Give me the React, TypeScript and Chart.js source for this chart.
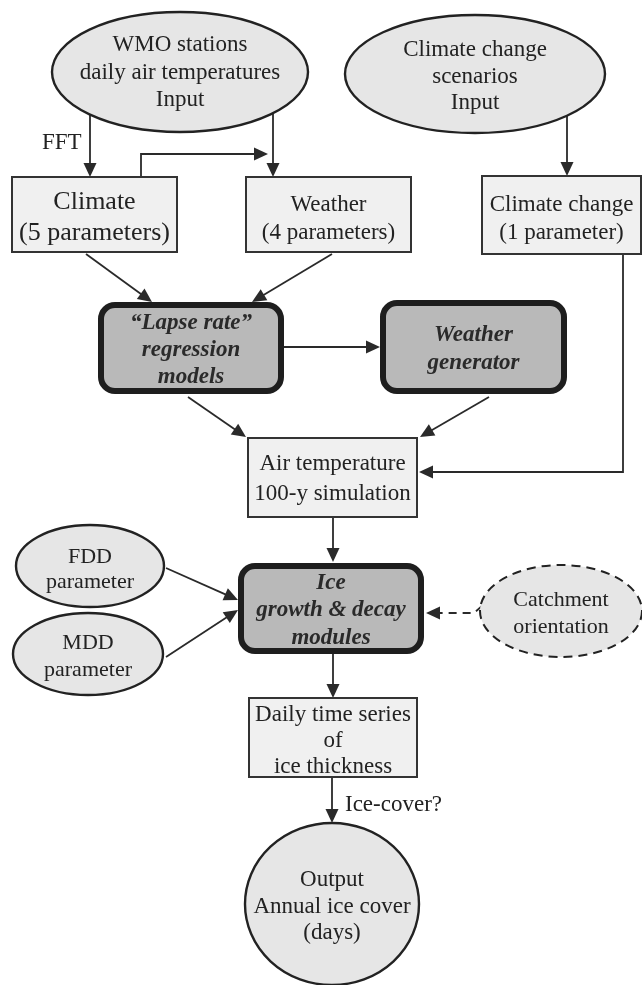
import React, { useEffect, useRef } from "react";
import { Chart, registerables } from "chart.js";

Chart.register(...registerables);

// ---- Data ----
const nodeIds = ["wmo", "ccs", "climate", "weather", "cc", "lapse", "wgen", "air", "fdd", "mdd", "ice", "catch", "daily", "output"];
const nodeLabels: string[][] = [
  ["WMO stations", "daily air temperatures", "Input"],
  ["Climate change", "scenarios", "Input"],
  ["Climate", "(5 parameters)"],
  ["Weather", "(4 parameters)"],
  ["Climate change", "(1 parameter)"],
  ["\u201CLapse rate\u201D", "regression", "models"],
  ["Weather", "generator"],
  ["Air temperature", "100-y simulation"],
  ["FDD", "parameter"],
  ["MDD", "parameter"],
  ["Ice", "growth & decay", "modules"],
  ["Catchment", "orientation"],
  ["Daily time series", "of", "ice thickness"],
  ["Output", "Annual ice cover", "(days)"],
];
const nodeKinds = ["input", "input", "box", "box", "box", "model", "model", "box", "input", "input", "model", "optional", "box", "input"];
const nodeX = [180, 475, 94.5, 328.5, 561.5, 191, 473.5, 332.5, 90, 88, 331, 561, 333, 332];
const nodeY = [72, 74, 214.5, 214.5, 215, 348, 347, 477.5, 566, 654, 608.5, 611, 737.5, 904];

const edgeFrom = ["wmo", "wmo", "climate", "ccs", "climate", "weather", "lapse", "lapse", "wgen", "cc", "air", "fdd", "mdd", "catch", "ice", "daily"];
const edgeTo = ["climate", "weather", "weather", "cc", "lapse", "lapse", "wgen", "air", "air", "air", "ice", "ice", "ice", "ice", "daily", "output"];
const edgeDashed = [false, false, false, false, false, false, false, false, false, false, false, false, false, true, false, false];

const annotations = ["FFT", "Ice-cover?"];

// ---- Layout (geometry, not data) ----
// ellipses: [rx, ry]; boxes: [width, height]
const size: Record<string, [number, number]> = {
  wmo: [128, 60], ccs: [130, 59], climate: [165, 75], weather: [165, 75], cc: [159, 78],
  lapse: [186, 92], wgen: [187, 94], air: [169, 79], fdd: [74, 41], mdd: [75, 41],
  ice: [186, 91], catch: [81, 46], daily: [168, 79], output: [87, 81],
};
// text: [center y, line spacing, font size]
const textLayout: Record<string, [number, number, number]> = {
  wmo: [72.5, 27.5, 23], ccs: [76.5, 26.5, 23], climate: [217.5, 31, 26], weather: [219, 28, 23],
  cc: [219, 28, 23], lapse: [350, 27, 23], wgen: [349, 28, 23], air: [479, 30, 23],
  fdd: [569.5, 25, 22], mdd: [656.5, 27, 22], ice: [610.5, 27.5, 23], catch: [613.5, 27, 22],
  daily: [741, 26, 23], output: [906.5, 26.5, 23],
};
const edgePaths: number[][][] = [
  [[90, 115], [90, 177]],
  [[273, 113], [273, 177]],
  [[141, 177], [141, 154], [268, 154]],
  [[567, 116], [567, 176]],
  [[86, 254], [152, 302]],
  [[332, 254], [252, 302]],
  [[284, 347], [380, 347]],
  [[188, 397], [246, 437]],
  [[489, 397], [420, 437]],
  [[623, 254], [623, 472], [419, 472]],
  [[333, 517], [333, 562]],
  [[166, 568], [238, 600]],
  [[166, 657], [238, 610]],
  [[482, 606], [474, 613], [426, 613]],
  [[333, 654], [333, 698]],
  [[332, 777], [332, 823]],
];
const annotationPos = [[42, 143], [345, 805]];

const FONT = '"Liberation Serif", "Times New Roman", serif';

const diagramPlugin = {
  id: "diagram",
  afterDatasetsDraw(chart: any) {
    const ctx: CanvasRenderingContext2D = chart.ctx;
    const xs = chart.scales.x;
    const ys = chart.scales.y;
    const px = (v: number) => xs.getPixelForValue(v);
    const py = (v: number) => ys.getPixelForValue(v);
    const sx = (px(100) - px(0)) / 100;
    const sy = Math.abs(py(100) - py(0)) / 100;

    ctx.save();
    // edges
    edgePaths.forEach((path, i) => {
      ctx.beginPath();
      ctx.strokeStyle = "#2a2a2a";
      ctx.lineWidth = 1.8;
      ctx.setLineDash(edgeDashed[i] ? [8, 6] : []);
      const a = path[path.length - 2], b = path[path.length - 1];
      const ax = px(a[0]), ay = py(a[1]), bx = px(b[0]), by = py(b[1]);
      const ang = Math.atan2(by - ay, bx - ax);
      const L = 14, W = 6.5;
      path.forEach((p, j) => {
        let x = px(p[0]), y = py(p[1]);
        if (j === path.length - 1) { x -= (L - 2) * Math.cos(ang); y -= (L - 2) * Math.sin(ang); }
        if (j === 0) ctx.moveTo(x, y); else ctx.lineTo(x, y);
      });
      ctx.stroke();
      ctx.setLineDash([]);
      ctx.beginPath();
      ctx.fillStyle = "#2a2a2a";
      ctx.moveTo(bx, by);
      ctx.lineTo(bx - L * Math.cos(ang) + W * Math.sin(ang), by - L * Math.sin(ang) - W * Math.cos(ang));
      ctx.lineTo(bx - L * Math.cos(ang) - W * Math.sin(ang), by - L * Math.sin(ang) + W * Math.cos(ang));
      ctx.closePath();
      ctx.fill();
    });

    // nodes
    nodeIds.forEach((id, i) => {
      const kind = nodeKinds[i];
      const cx = px(nodeX[i]), cy = py(nodeY[i]);
      const [w, h] = size[id];
      ctx.setLineDash([]);
      if (kind === "input" || kind === "optional") {
        ctx.beginPath();
        ctx.ellipse(cx, cy, w * sx, h * sy, 0, 0, Math.PI * 2);
        ctx.fillStyle = "#e6e6e6";
        ctx.fill();
        ctx.lineWidth = 2.4;
        ctx.strokeStyle = "#222";
        if (kind === "optional") { ctx.setLineDash([9, 6]); ctx.lineWidth = 2; }
        ctx.stroke();
        ctx.setLineDash([]);
      } else if (kind === "box") {
        const W = w * sx, H = h * sy;
        ctx.fillStyle = "#f0f0f0";
        ctx.fillRect(cx - W / 2, cy - H / 2, W, H);
        ctx.lineWidth = 2;
        ctx.strokeStyle = "#333";
        ctx.strokeRect(cx - W / 2, cy - H / 2, W, H);
      } else {
        const W = w * sx, H = h * sy;
        const r = 14, x0 = cx - W / 2 + 3, y0 = cy - H / 2 + 3, ww = W - 6, hh = H - 6;
        ctx.beginPath();
        ctx.roundRect(x0, y0, ww, hh, r);
        ctx.fillStyle = "#b9b9b9";
        ctx.fill();
        ctx.lineWidth = 6;
        ctx.strokeStyle = "#1e1e1e";
        ctx.stroke();
      }
      // text
      const lines = nodeLabels[i];
      const isModel = kind === "model";
      const [ty, lh, fs] = textLayout[id];
      ctx.font = (isModel ? "italic bold " : "") + fs + "px " + FONT;
      ctx.fillStyle = isModel ? "#2a2a2a" : "#222";
      ctx.textAlign = "center";
      ctx.textBaseline = "middle";
      const n = lines.length;
      lines.forEach((t, k) => {
        ctx.fillText(t, cx, py(ty) + (k - (n - 1) / 2) * lh);
      });
    });

    // annotations
    ctx.font = "23px " + FONT;
    ctx.fillStyle = "#222";
    ctx.textAlign = "left";
    ctx.textBaseline = "middle";
    annotations.forEach((t, i) => {
      ctx.fillText(t, px(annotationPos[i][0]), py(annotationPos[i][1]));
    });
    ctx.restore();
  },
};

export default function App() {
  const ref = useRef<HTMLCanvasElement | null>(null);
  useEffect(() => {
    document.body.style.margin = "0";
    const canvas = ref.current!;
    const chart = new Chart(canvas, {
      type: "scatter",
      data: {
        datasets: [
          {
            label: "nodes",
            data: nodeIds.map((_, i) => ({ x: nodeX[i], y: nodeY[i] })),
            pointRadius: 0,
            showLine: false,
          },
        ],
      },
      options: {
        animation: false,
        responsive: false,
        maintainAspectRatio: false,
        layout: { padding: 0 },
        plugins: { legend: { display: false }, tooltip: { enabled: false } },
        scales: {
          x: { type: "linear", min: 0, max: 642, display: false },
          y: { type: "linear", min: 0, max: 985, reverse: true, display: false },
        },
      },
      plugins: [diagramPlugin],
    });
    return () => chart.destroy();
  }, []);
  return (
    <div style={{ width: 642, height: 985, background: "#fff" }}>
      <canvas ref={ref} width={642} height={985} style={{ display: "block" }} />
    </div>
  );
}
